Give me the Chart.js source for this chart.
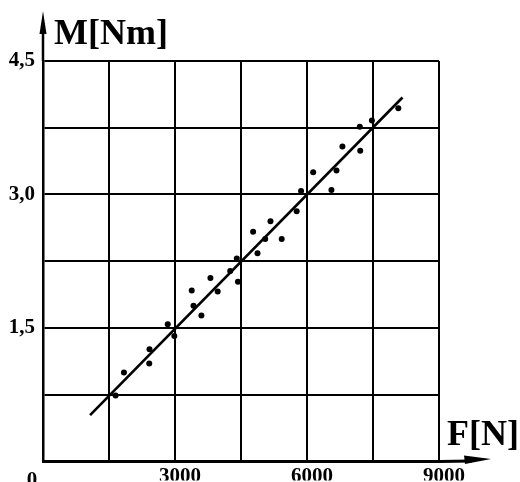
<!DOCTYPE html>
<html>
<head>
<meta charset="utf-8">
<script src="https://cdn.jsdelivr.net/npm/chart.js@4"></script>
<style>
  html, body { margin: 0; padding: 0; background: #fff; }
  #wrap { width: 520px; height: 482px; }
</style>
</head>
<body>
<div id="wrap"><canvas id="c" width="520" height="482"></canvas></div>
<script>
// Measured points: force F [N] and torque M [Nm]
const forceF = [1650, 1840, 2415, 2420, 2835, 2985, 3380, 3420, 3600, 3805, 3970, 4255, 4405, 4430, 4875, 4775, 5050, 5425, 5170, 5765, 5865, 6140, 6555, 6670, 6805, 7210, 7200, 7475, 8075];
const torqueM = [0.74, 1.00, 1.10, 1.26, 1.54, 1.41, 1.92, 1.75, 1.64, 2.06, 1.91, 2.14, 2.28, 2.02, 2.34, 2.58, 2.50, 2.50, 2.70, 2.81, 3.04, 3.25, 3.05, 3.27, 3.54, 3.49, 3.76, 3.83, 3.97];
// Fitted regression line endpoints
const lineF = [1070, 8170];
const lineM = [0.52, 4.09];
// Axes
const xLabeled = [3000, 6000, 9000];
const yLabeled = [1.5, 3.0, 4.5];
const xTitle = 'F[N]';
const yTitle = 'M[Nm]';
const originLabel = '0';

const SERIF = '"Liberation Serif", "DejaVu Serif", serif';

const pts = forceF.map((f, i) => ({ x: f, y: torqueM[i] }));
const fit = lineF.map((f, i) => ({ x: f, y: lineM[i] }));

const decor = {
  id: 'decor',
  afterDraw(chart) {
    const ctx = chart.ctx;
    const a = chart.chartArea;
    ctx.save();
    ctx.strokeStyle = '#000';
    ctx.fillStyle = '#000';
    // y axis arrow
    ctx.lineWidth = 2.5;
    ctx.beginPath();
    ctx.moveTo(a.left, a.top);
    ctx.lineTo(a.left, 26);
    ctx.stroke();
    ctx.beginPath();
    ctx.moveTo(a.left, 11);
    ctx.lineTo(a.left - 3.5, 34);
    ctx.lineTo(a.left + 3.5, 34);
    ctx.closePath();
    ctx.fill();
    // x axis arrow
    ctx.lineWidth = 3;
    ctx.beginPath();
    ctx.moveTo(a.right, a.bottom);
    ctx.lineTo(472, a.bottom - 0.5);
    ctx.stroke();
    ctx.beginPath();
    ctx.moveTo(491, a.bottom - 2.5);
    ctx.lineTo(464, a.bottom - 6);
    ctx.lineTo(465, a.bottom + 2.5);
    ctx.closePath();
    ctx.fill();
    // titles
    ctx.font = 'bold 36px ' + SERIF;
    ctx.textAlign = 'left';
    ctx.textBaseline = 'alphabetic';
    ctx.fillText(yTitle, 54, 44);
    ctx.fillText(xTitle, 447, 445);
    ctx.font = 'bold 21px ' + SERIF;
    ctx.textAlign = 'center';
    ctx.fillText(originLabel, 32, 486);
    ctx.restore();
  }
};

const near = (v, arr) => arr.some(t => Math.abs(v - t) < 1e-6);

new Chart(document.getElementById('c'), {
  type: 'scatter',
  data: {
    datasets: [
      {
        label: 'measured',
        data: pts,
        showLine: false,
        pointRadius: 3,
        pointHoverRadius: 3,
        pointBackgroundColor: '#000',
        pointBorderColor: '#000',
        pointBorderWidth: 0
      },
      {
        label: 'fit',
        data: fit,
        showLine: true,
        pointRadius: 0,
        borderColor: '#000',
        borderWidth: 2.6,
        fill: false
      }
    ]
  },
  options: {
    responsive: false,
    animation: false,
    events: [],
    layout: { padding: { top: 61, right: 81, left: 0, bottom: 0 } },
    plugins: {
      legend: { display: false },
      tooltip: { enabled: false },
      title: { display: false }
    },
    scales: {
      x: {
        type: 'linear',
        min: 0,
        max: 9000,
        afterFit(s) { s.height = 19; },
        grid: { color: '#000', lineWidth: 2, drawTicks: false },
        border: { display: true, color: '#000', width: 3 },
        ticks: {
          stepSize: 1500,
          autoSkip: false,
          maxRotation: 0,
          padding: 3,
          labelOffset: 5,
          color: '#000',
          font: { family: SERIF, size: 21, weight: 'bold' },
          callback: v => near(v, xLabeled) ? String(v) : ''
        }
      },
      y: {
        type: 'linear',
        min: 0,
        max: 4.5,
        afterFit(s) { s.width = 43; },
        grid: { color: '#000', lineWidth: 2, drawTicks: false },
        border: { display: true, color: '#000', width: 2.5 },
        ticks: {
          stepSize: 0.75,
          autoSkip: false,
          padding: 8,
          color: '#000',
          font: { family: SERIF, size: 21, weight: 'bold' },
          callback: v => near(v, yLabeled) ? v.toFixed(1).replace('.', ',') : ''
        }
      }
    }
  },
  plugins: [decor]
});
</script>
</body>
</html>
